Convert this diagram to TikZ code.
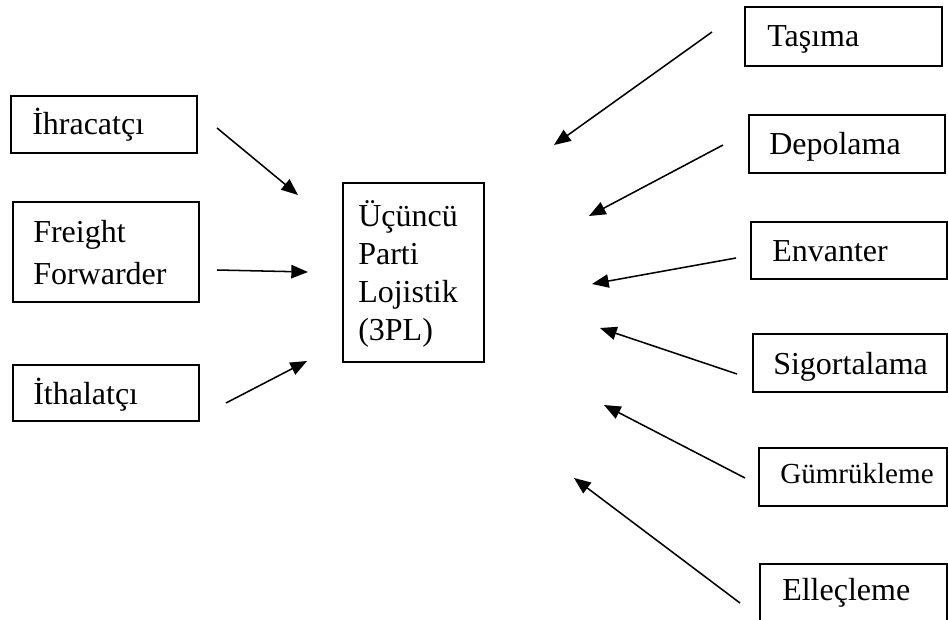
\documentclass[tikz,border=0pt]{standalone}
\usepackage{fontspec}
\setmainfont{Liberation Serif}
\usetikzlibrary{arrows.meta}
\begin{document}
\begin{tikzpicture}[x=0.75pt,y=-0.75pt,
  frame/.style={draw=black,line width=1pt},
  lbl/.style={anchor=base west,inner sep=0pt,font=\fontsize{24}{28}\selectfont},
  lblsmall/.style={anchor=base west,inner sep=0pt,font=\fontsize{21.8}{26}\selectfont},
  flow/.style={line width=1.15pt,-{Triangle[length=12.5pt,width=10pt]}}]
\useasboundingbox (0,0) rectangle (948,620);
\clip (0,0) rectangle (948,620);
\fill[white] (0,0) rectangle (948,620);

% left-hand boxes
\draw[frame] (11,96) rectangle (197,153);
\node[lbl] (ihr) at (32,135) {İhracatçı};
\draw[frame] (13,202) rectangle (199,302);
\node[lbl] (ff1) at (33,242) {Freight};
\node[lbl] (ff2) at (33,284) {Forwarder};
\draw[frame] (13,365) rectangle (199,421);
\node[lbl] (ith) at (33,404) {İthalatçı};

% central box
\draw[frame] (343,183) rectangle (484,362);
\node[lbl] (c1) at (358,226) {Üçüncü};
\node[lbl] (c2) at (358,264) {Parti};
\node[lbl] (c3) at (358,302) {Lojistik};
\node[lbl] (c4) at (358,340) {(3PL)};

% right-hand boxes
\draw[frame] (745,7) rectangle (942,66);
\node[lbl] (tas) at (767,47) {Taşıma};
\draw[frame] (749,115) rectangle (945,173);
\node[lbl] (dep) at (769,155) {Depolama};
\draw[frame] (751,222) rectangle (947,279);
\node[lbl] (env) at (772,261) {Envanter};
\draw[frame] (753,334) rectangle (947,392);
\node[lbl] (sig) at (773,374) {Sigortalama};
\draw[frame] (759,448) rectangle (947,506);
\node[lblsmall] (gum) at (780,483) {Gümrükleme};
\draw[frame] (760,564) rectangle (947,640);
\node[lbl] (ell) at (782,600) {Elleçleme};

% arrow end points
\coordinate (a1s) at (217,128); \coordinate (a1e) at (298,195);
\coordinate (a2s) at (217,270); \coordinate (a2e) at (308,272);
\coordinate (a3s) at (226,403); \coordinate (a3e) at (307,361);
\coordinate (b1s) at (712,32);  \coordinate (b1e) at (554,145);
\coordinate (b2s) at (723,145); \coordinate (b2e) at (589,216);
\coordinate (b3s) at (736,258); \coordinate (b3e) at (592,284);
\coordinate (b4s) at (737,374); \coordinate (b4e) at (600,328);
\coordinate (b5s) at (745,478); \coordinate (b5e) at (604,405);
\coordinate (b6s) at (740,603); \coordinate (b6e) at (574,478);

\draw[flow] (a1s) -- (a1e);
\draw[flow] (a2s) -- (a2e);
\draw[flow] (a3s) -- (a3e);
\draw[flow] (b1s) -- (b1e);
\draw[flow] (b2s) -- (b2e);
\draw[flow] (b3s) -- (b3e);
\draw[flow] (b4s) -- (b4e);
\draw[flow] (b5s) -- (b5e);
\draw[flow] (b6s) -- (b6e);
\end{tikzpicture}
\end{document}
